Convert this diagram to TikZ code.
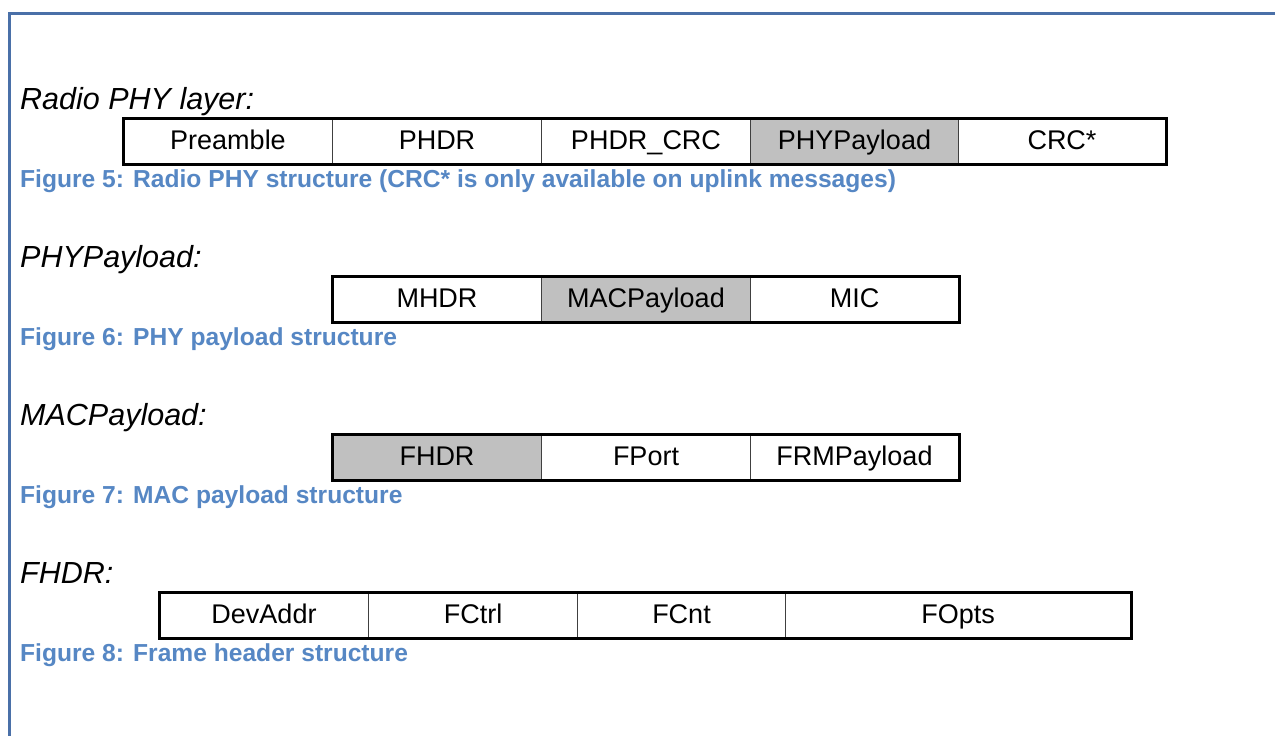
\documentclass[tikz,border=0pt]{standalone}
\usepackage{fontspec}
\setmainfont{Liberation Sans}
\definecolor{frameblue}{HTML}{4A70A8}
\definecolor{capblue}{HTML}{5687C4}
\definecolor{cellgray}{HTML}{C0C0C0}
\begin{document}
\begin{tikzpicture}[x=1pt,y=-1pt,
  cell/.style={draw=black!75, line width=1pt, minimum height=45pt, text height=21pt, text depth=5pt, inner sep=0pt, anchor=north west, font=\fontsize{27}{30}\selectfont},
  hl/.style={fill=cellgray},
  outerbox/.style={draw=black, line width=3pt},
  lbl/.style={anchor=base west, inner sep=0pt, font=\fontsize{30.5}{33}\selectfont\itshape},
  figcap/.style={anchor=base west, inner sep=0pt, text=capblue, font=\fontsize{24.6}{28}\selectfont\bfseries}]
\useasboundingbox (0,0) rectangle (1275,736);
\fill[white] (0,0) rectangle (1275,736);
\draw[frameblue, line width=3pt] (9,736) -- (9,13) -- (1276,13);

% Row 1
\node[lbl] (l1) at (20,109) {Radio PHY layer:};
\node[cell, minimum width=209pt] (a1) at (123,118) {Preamble};
\node[cell, minimum width=209pt] (a2) at (332,118) {PHDR};
\node[cell, minimum width=209pt] (a3) at (541,118) {PHDR\_CRC};
\node[cell, hl, minimum width=208pt] (a4) at (750,118) {PHYPayload};
\node[cell, minimum width=207pt] (a5) at (958,118) {CRC*};
\draw[outerbox] (a1.north west) rectangle (a5.south east);
\node[figcap] (c1) at (20,187) {Figure 5: Radio PHY structure (CRC* is only available on uplink messages)};

% Row 2
\node[lbl] (l2) at (20,267) {PHYPayload:};
\node[cell, minimum width=209pt] (b1) at (332,276) {MHDR};
\node[cell, hl, minimum width=209pt] (b2) at (541,276) {MACPayload};
\node[cell, minimum width=208pt] (b3) at (750,276) {MIC};
\draw[outerbox] (b1.north west) rectangle (b3.south east);
\node[figcap] (c2) at (20,345) {Figure 6: PHY payload structure};

% Row 3
\node[lbl] (l3) at (20,425) {MACPayload:};
\node[cell, hl, minimum width=209pt] (d1) at (332,434) {FHDR};
\node[cell, minimum width=209pt] (d2) at (541,434) {FPort};
\node[cell, minimum width=208pt] (d3) at (750,434) {FRMPayload};
\draw[outerbox] (d1.north west) rectangle (d3.south east);
\node[figcap] (c3) at (20,503) {Figure 7: MAC payload structure};

% Row 4
\node[lbl] (l4) at (20,583) {FHDR:};
\node[cell, minimum width=209pt] (e1) at (159,592) {DevAddr};
\node[cell, minimum width=209pt] (e2) at (368,592) {FCtrl};
\node[cell, minimum width=208pt] (e3) at (577,592) {FCnt};
\node[cell, minimum width=345pt] (e4) at (785,592) {FOpts};
\draw[outerbox] (e1.north west) rectangle (e4.south east);
\node[figcap] (c4) at (20,661) {Figure 8: Frame header structure};
\end{tikzpicture}
\end{document}
